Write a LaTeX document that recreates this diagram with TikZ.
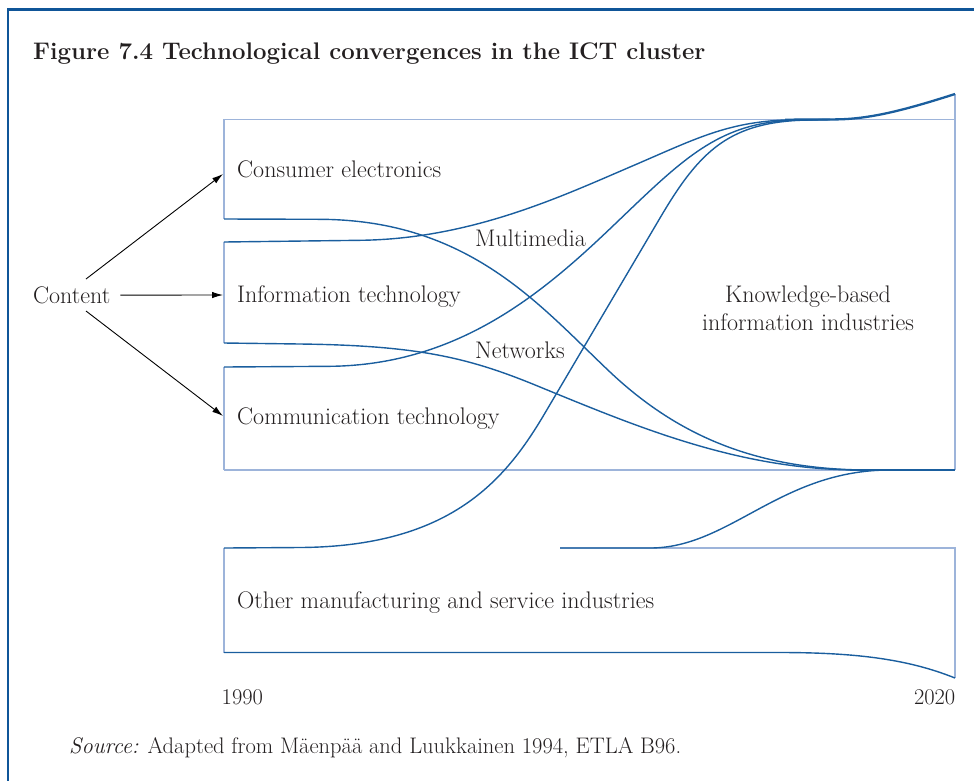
\documentclass[tikz,border=0pt]{standalone}
\usetikzlibrary{arrows.meta}
\definecolor{frameblue}{HTML}{0F5598}
\definecolor{curveblue}{HTML}{1A5E9E}
\definecolor{boxblue}{HTML}{9DB4DA}
\definecolor{txt}{HTML}{231F20}
\begin{document}
\begin{tikzpicture}[x=1pt,y=-1pt,
  lbl/.style={inner sep=0pt, anchor=base west, text=txt, font=\fontsize{24}{28}\selectfont},
  small/.style={lbl, font=\fontsize{22.5}{27}\selectfont},
  ttl/.style={inner sep=0pt, anchor=base west, text=txt, font=\fontsize{24}{28}\bfseries},
  boxline/.style={draw=boxblue, line width=1.3pt},
  flow/.style={draw=curveblue, line width=1.4pt, line join=round},
  tail/.style={draw=curveblue, line width=2.3pt},
  arr/.style={draw=black, line width=0.9pt, -{Latex[length=11pt,width=6.5pt]}},
  frame/.style={draw=frameblue, line width=2.6pt}]
\useasboundingbox (0,0) rectangle (974,780);
% outer frame
\draw[frame] (8,782) -- (8,9.5) -- (976,9.5);
% light box outlines
\draw[boxline] (224,219) -- (224,119.5) -- (955,119.5);
\draw[boxline] (955,94) -- (955,470);
\draw[boxline] (224,470) -- (955,470);
\draw[boxline] (224,242) -- (224,343);
\draw[boxline] (224,367) -- (224,470);
\draw[boxline] (224,548) -- (224,652.5);
\draw[boxline] (560,548) -- (955,548) -- (955,678);
% flows
% consumer electronics -> knowledge-based (bottom)
\draw[flow] (224,219) -- (320,219.3) .. controls (470,220) and (540,306) .. (610,372)
            .. controls (680,438) and (760,470) .. (870,470);
% information technology (top) -> multimedia -> top
\draw[flow] (224,242) -- (360,240.3) .. controls (470,239) and (560,197) .. (630,167)
            .. controls (700,137) and (730,120) .. (800,119.6) -- (830,119.5);
% information technology (bottom) -> networks -> bottom
\draw[flow] (224,343) -- (300,344) .. controls (420,345.5) and (470,358) .. (540,387)
            .. controls (640,428) and (740,470) .. (860,470);
% communication technology (top) -> top
\draw[flow] (224,367) -- (330,366.3) .. controls (460,365) and (545,291) .. (615,224)
            .. controls (685,157) and (720,121) .. (800,120) -- (830,119.5);
% other industries (top left) -> top
\draw[flow] (224,548) -- (300,547.5) .. controls (450,546.5) and (505,481) .. (545,413)
            -- (660,218) .. controls (700,150) and (730,121) .. (810,120) -- (830,119.5);
% other industries (top right) -> bottom of knowledge box
\draw[flow] (560,548) -- (650,548) .. controls (730,548) and (780,470) .. (890,470);
% other industries bottom edge
\draw[flow] (224,652.5) -- (780,652.5) .. controls (860,652.5) and (910,660) .. (955,678);
% converged tails
\draw[tail] (785,119.7) -- (835,119.4) .. controls (870,119.2) and (905,110) .. (955,94);
\draw[tail] (850,470) -- (955,470);
% labels
\node[ttl] (title) at (33,59) {Figure 7.4 Technological convergences in the ICT cluster};
\node[lbl] (ce) at (237,177.3) {Consumer electronics};
\node[lbl] (it) at (237,302.3) {Information technology};
\node[lbl] (ct) at (237,424) {Communication technology};
\node[lbl] (content) at (33,303.3) {Content};
\node[lbl] (mm) at (475,246.7) {Multimedia};
\node[lbl] (nw) at (475,358.3) {Networks};
\node[lbl, anchor=base, align=center] (kb) at (808,330.7) {Knowledge-based\\information industries};
\node[lbl] (other) at (237,608.3) {Other manufacturing and service industries};
\node[small] (y1) at (221.5,704.5) {1990};
\node[small, anchor=base east] (y2) at (955.5,704.5) {2020};
\node[small] (src) at (69,753.5) {\textit{Source:} Adapted from Mäenpää and Luukkainen 1994, ETLA B96.};
% arrows from Content
\coordinate (s1) at (86,279);
\coordinate (s3) at (86,311);
\coordinate (ceIn) at (223,174);
\coordinate (itIn) at (223,295);
\coordinate (ctIn) at (223,416);
\draw[arr] (s1) -- (ceIn);
\draw[arr] ([xshift=10pt]content.east) -- (itIn);
\draw[arr] (s3) -- (ctIn);
\end{tikzpicture}
\end{document}
